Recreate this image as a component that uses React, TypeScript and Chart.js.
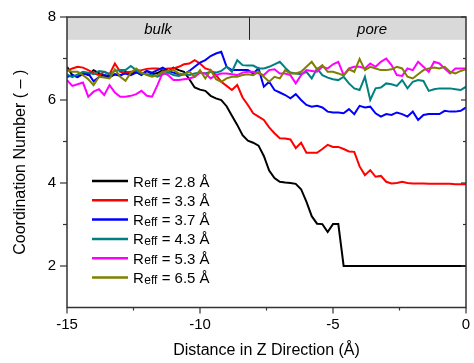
import React, { useEffect, useRef } from "react";
import { Chart, registerables } from "chart.js";

Chart.register(...registerables);

// Distance in Z direction (Å)
const distance = [
  -15.0, -14.8, -14.6, -14.4, -14.2, -14.0, -13.8, -13.6, -13.4, -13.2,
  -13.0, -12.8, -12.6, -12.4, -12.2, -12.0, -11.8, -11.6, -11.4, -11.2,
  -11.0, -10.8, -10.6, -10.4, -10.2, -10.0, -9.8, -9.6, -9.4, -9.2,
  -9.0, -8.8, -8.6, -8.4, -8.2, -8.0, -7.8, -7.6, -7.4, -7.2,
  -7.0, -6.8, -6.6, -6.4, -6.2, -6.0, -5.8, -5.6, -5.4, -5.2,
  -5.0, -4.8, -4.6, -4.4, -4.2, -4.0, -3.8, -3.6, -3.4, -3.2,
  -3.0, -2.8, -2.6, -2.4, -2.2, -2.0, -1.8, -1.6, -1.4, -1.2,
  -1.0, -0.8, -0.6, -0.4, -0.2, 0.0,
];

const cnReff28 = [
  6.8, 6.6, 6.55, 6.65, 6.6, 6.72, 6.65, 6.58, 6.55, 6.62,
  6.58, 6.68, 6.62, 6.68, 6.6, 6.7, 6.62, 6.65, 6.72, 6.68,
  6.78, 6.72, 6.68, 6.5, 6.3, 6.25, 6.22, 6.1, 6.04, 6.0,
  5.85, 5.62, 5.4, 5.15, 5.02, 4.97, 4.9, 4.65, 4.3, 4.12,
  4.03, 4.01, 4.0, 3.98, 3.85, 3.55, 3.2, 3.02, 3.01, 2.82,
  3.01, 3.01, 2.0, 2.0, 2.0, 2.0, 2.0, 2.0, 2.0, 2.0,
  2.0, 2.0, 2.0, 2.0, 2.0, 2.0, 2.0, 2.0, 2.0, 2.0,
  2.0, 2.0, 2.0, 2.0, 2.0, 2.0,
];

const cnReff33 = [
  6.7, 6.76, 6.8, 6.78, 6.72, 6.65, 6.6, 6.68, 6.62, 6.88,
  6.68, 6.66, 6.68, 6.7, 6.72, 6.75, 6.76, 6.76, 6.74, 6.76,
  6.76, 6.8, 6.86, 6.88, 6.96, 6.88, 6.76, 6.72, 6.6, 6.44,
  6.34, 6.24, 6.36, 6.06, 5.88, 5.68, 5.6, 5.52, 5.34, 5.2,
  5.08, 5.07, 5.05, 4.84, 4.97, 4.73, 4.73, 4.73, 4.82, 4.92,
  4.87, 4.87, 4.82, 4.76, 4.75, 4.4, 4.19, 4.31, 4.15, 4.17,
  4.03, 3.99, 4.0, 4.03, 4.0, 3.99, 3.99, 3.99, 3.98, 3.98,
  3.98, 3.98, 3.98, 3.97, 3.97, 3.97,
];

const cnReff37 = [
  6.55, 6.6, 6.56, 6.62, 6.64, 6.45, 6.55, 6.6, 6.58, 6.62,
  6.6, 6.64, 6.6, 6.66, 6.62, 6.7, 6.66, 6.72, 6.78, 6.7,
  6.66, 6.62, 6.62, 6.7, 6.8, 6.9, 6.96, 7.06, 7.12, 7.16,
  6.8, 6.72, 6.72, 6.72, 6.72, 6.64, 6.76, 6.32, 6.44, 6.24,
  6.18, 6.12, 6.04, 6.14, 6.0, 5.88, 5.84, 5.86, 5.82, 5.72,
  5.7, 5.7, 5.68, 5.78, 5.66, 5.86, 5.82, 5.84, 5.68, 5.6,
  5.66, 5.64, 5.7, 5.66, 5.6, 5.72, 5.52, 5.64, 5.66, 5.66,
  5.66, 5.74, 5.72, 5.72, 5.74, 5.82,
];

const cnReff43 = [
  6.62, 6.55, 6.62, 6.68, 6.66, 6.62, 6.7, 6.68, 6.62, 6.7,
  6.72, 6.72, 6.82, 6.72, 6.64, 6.62, 6.6, 6.56, 6.62, 6.66,
  6.6, 6.58, 6.62, 6.6, 6.64, 6.66, 6.64, 6.68, 6.66, 6.7,
  6.8, 6.68, 6.96, 6.84, 6.83, 6.83, 6.76, 6.76, 6.8, 6.86,
  6.92, 6.78, 6.66, 6.64, 6.62, 6.68, 6.52, 6.76, 6.6, 6.54,
  6.5, 6.48, 6.56, 6.4, 6.28, 6.24, 6.56, 6.0, 6.28, 6.3,
  6.4, 6.38, 6.34, 6.48, 6.28, 6.44, 6.48, 6.46, 6.22, 6.26,
  6.28, 6.28, 6.28, 6.26, 6.24, 6.32,
];

const cnReff53 = [
  6.48, 6.34, 6.38, 6.42, 6.08, 6.2, 6.26, 6.12, 6.36, 6.18,
  6.08, 6.08, 6.1, 6.14, 6.22, 6.1, 6.08, 6.36, 6.66, 6.6,
  6.48, 6.48, 6.5, 6.52, 6.56, 6.66, 6.64, 6.52, 6.6, 6.64,
  6.64, 6.62, 6.6, 6.66, 6.68, 6.68, 6.64, 6.6, 6.72, 6.74,
  6.64, 6.64, 6.6, 6.4, 6.6, 6.72, 6.7, 6.68, 6.8, 6.76,
  6.86, 6.92, 6.6, 6.76, 6.8, 6.8, 6.76, 6.88, 6.8, 6.92,
  7.0, 6.84, 6.6, 6.58, 6.76, 6.72, 6.92, 6.8, 6.68, 6.92,
  6.88, 6.76, 6.64, 6.76, 6.76, 6.76,
];

const cnReff65 = [
  6.72, 6.68, 6.68, 6.6, 6.5, 6.36, 6.56, 6.54, 6.52, 6.74,
  6.56, 6.46, 6.66, 6.76, 6.66, 6.6, 6.56, 6.6, 6.68, 6.7,
  6.72, 6.64, 6.62, 6.68, 6.56, 6.72, 6.52, 6.72, 6.5, 6.44,
  6.52, 6.56, 6.56, 6.6, 6.62, 6.6, 6.68, 6.56, 6.44, 6.56,
  6.52, 6.72, 6.64, 6.64, 6.68, 6.8, 6.92, 6.74, 6.84, 6.68,
  6.68, 6.64, 6.59, 6.74, 6.68, 6.99, 6.72, 6.8, 6.76, 6.72,
  6.72, 6.74, 6.8, 6.76, 6.56, 6.52, 6.62, 6.72, 6.76, 6.78,
  6.76, 6.8, 6.68, 6.64, 6.7, 6.74,
];

const seriesValues = [cnReff28, cnReff33, cnReff37, cnReff43, cnReff53, cnReff65];
const seriesLabels = ["2.8", "3.3", "3.7", "4.3", "5.3", "6.5"];
const seriesColors = ["#000000", "#ff0000", "#0000ff", "#008080", "#ff00ff", "#808000"];

const xMajorTicks = [-15, -10, -5, 0];
const xMinorTicks = [-12.5, -7.5, -2.5];
const yMajorTicks = [2, 4, 6, 8];
const yMinorTicks = [3, 5, 7];

const regionNames = ["bulk", "pore"];
const regionCenters = [-11.58, -3.53];
const regionDivider = -8.15;
const bandBottom = 7.45;

const FONT = "'Liberation Sans', Arial, Helvetica, sans-serif";

const decorPlugin = {
  id: "decor",
  beforeDatasetsDraw(chart: any) {
    const { ctx, chartArea, scales } = chart;
    const xs = scales.x;
    const ys = scales.y;
    const top = ys.getPixelForValue(8);
    const bot = ys.getPixelForValue(bandBottom);
    ctx.save();
    ctx.fillStyle = "#d9d9d9";
    ctx.fillRect(chartArea.left, top, chartArea.right - chartArea.left, bot - top);
    const dx = Math.round(xs.getPixelForValue(regionDivider)) + 0.5;
    ctx.strokeStyle = "#222";
    ctx.lineWidth = 1;
    ctx.beginPath();
    ctx.moveTo(dx, top);
    ctx.lineTo(dx, bot);
    ctx.stroke();
    ctx.fillStyle = "#000";
    ctx.font = `italic 15px ${FONT}`;
    ctx.textAlign = "center";
    ctx.textBaseline = "middle";
    regionNames.forEach((n, i) => {
      ctx.fillText(n, xs.getPixelForValue(regionCenters[i]), (top + bot) / 2 + 1);
    });
    ctx.restore();
  },
  afterDraw(chart: any) {
    const { ctx, chartArea, scales } = chart;
    const xs = scales.x;
    const ys = scales.y;
    const { left, right, top, bottom } = chartArea;
    ctx.save();
    ctx.strokeStyle = "#333";
    ctx.lineWidth = 1.5;
    ctx.strokeRect(left, top, right - left, bottom - top);

    ctx.lineWidth = 1.2;
    const tick = (x1: number, y1: number, x2: number, y2: number) => {
      ctx.beginPath();
      ctx.moveTo(x1, y1);
      ctx.lineTo(x2, y2);
      ctx.stroke();
    };
    xMajorTicks.forEach((v) => {
      const px = xs.getPixelForValue(v);
      tick(px, bottom, px, bottom + 6);
    });
    xMinorTicks.forEach((v) => {
      const px = xs.getPixelForValue(v);
      tick(px, bottom, px, bottom + 3);
    });
    yMajorTicks.forEach((v) => {
      const py = ys.getPixelForValue(v);
      tick(left - 7, py, left, py);
      tick(right - 5, py, right, py);
    });
    yMinorTicks.forEach((v) => {
      const py = ys.getPixelForValue(v);
      tick(left - 4, py, left, py);
      tick(right - 3, py, right, py);
    });

    // legend
    const lx0 = 92;
    const lx1 = 128;
    const tx = 133;
    const y0 = 181;
    const dy = 19.3;
    seriesLabels.forEach((lab, i) => {
      const yy = y0 + i * dy;
      ctx.strokeStyle = seriesColors[i];
      ctx.lineWidth = 2.5;
      ctx.beginPath();
      ctx.moveTo(lx0, yy);
      ctx.lineTo(lx1, yy);
      ctx.stroke();
      ctx.fillStyle = "#000";
      ctx.textAlign = "left";
      ctx.textBaseline = "alphabetic";
      const base = yy + 5.5;
      let x = tx;
      ctx.font = `15px ${FONT}`;
      ctx.fillText("R", x, base);
      x += ctx.measureText("R").width;
      ctx.font = `12px ${FONT}`;
      ctx.fillText("eff", x + 0.5, base + 0.5);
      x += ctx.measureText("eff").width + 0.5;
      ctx.font = `15px ${FONT}`;
      ctx.fillText(` = ${lab} Å`, x, base);
    });
    ctx.restore();
  },
};

export default function App() {
  const canvasRef = useRef<HTMLCanvasElement | null>(null);

  useEffect(() => {
    const canvas = canvasRef.current;
    if (!canvas) return;
    const n = seriesValues.length;
    const chart = new Chart(canvas, {
      type: "line",
      data: {
        datasets: seriesValues.map((vals, i) => ({
          label: `Reff = ${seriesLabels[i]} Å`,
          data: distance.map((x, j) => ({ x, y: vals[j] })),
          borderColor: seriesColors[i],
          backgroundColor: seriesColors[i],
          borderWidth: 2,
          pointRadius: 0,
          tension: 0,
          fill: false,
          order: n - i,
        })),
      },
      options: {
        responsive: false,
        animation: false,
        devicePixelRatio: 1,
        layout: { padding: { top: 17, right: 8, left: 0, bottom: 0 } },
        plugins: {
          legend: { display: false },
          tooltip: { enabled: false },
        },
        scales: {
          x: {
            type: "linear",
            min: -15,
            max: 0,
            afterBuildTicks: (s: any) => {
              s.ticks = xMajorTicks.map((v) => ({ value: v }));
            },
            afterFit: (s: any) => {
              s.height = 55.5;
              s.paddingLeft = 0;
              s.paddingRight = 0;
            },
            grid: { display: false, drawTicks: false },
            border: { display: false },
            ticks: {
              color: "#000",
              font: { family: FONT, size: 15 },
              padding: 8,
              autoSkip: false,
              maxRotation: 0,
              callback: (v: any) => String(v),
            },
            title: {
              display: true,
              text: "Distance in Z Direction (Å)",
              color: "#000",
              font: { family: FONT, size: 16 },
              padding: { top: 0, bottom: 2.4 },
            },
          },
          y: {
            type: "linear",
            min: 1,
            max: 8,
            afterBuildTicks: (s: any) => {
              s.ticks = yMajorTicks.map((v) => ({ value: v }));
            },
            afterFit: (s: any) => {
              s.width = 67;
              s.paddingTop = 0;
              s.paddingBottom = 0;
            },
            grid: { display: false, drawTicks: false },
            border: { display: false },
            ticks: {
              color: "#000",
              font: { family: FONT, size: 15 },
              padding: 11,
              autoSkip: false,
              callback: (v: any) => String(v),
            },
            title: {
              display: true,
              text: "Coordination Number ( – )",
              color: "#000",
              font: { family: FONT, size: 16 },
              padding: { top: 11.4, bottom: 0 },
            },
          },
        },
      },
      plugins: [decorPlugin],
    });
    return () => chart.destroy();
  }, []);

  return (
    <div style={{ position: "absolute", left: 0, top: 0, width: 474, height: 363, background: "#fff" }}>
      <canvas ref={canvasRef} width={474} height={363} style={{ display: "block" }} />
    </div>
  );
}
